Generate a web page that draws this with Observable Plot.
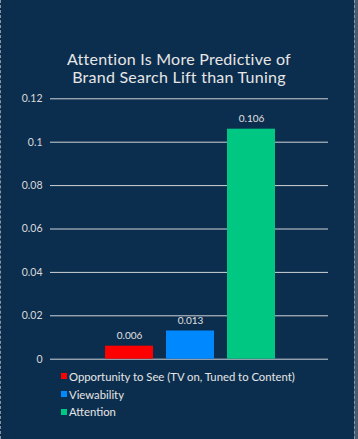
<!DOCTYPE html>
<html>
<head>
<meta charset="utf-8">
<script src="https://cdn.jsdelivr.net/npm/d3@7"></script>
<script src="https://cdn.jsdelivr.net/npm/@observablehq/plot@0.6"></script>
<style>
  html, body { margin: 0; padding: 0; background: #0c2e4e; }
  #wrap { position: relative; width: 358px; height: 439px; background: #0c2e4e; overflow: hidden; font-family: "Lato", "Open Sans", sans-serif; }
  #bl { position: absolute; left: 0; top: 0; width: 0; height: 439px; border-left: 1px dashed #8a96a3; }
  #br { position: absolute; left: 354px; top: 0; width: 4px; height: 439px; border-left: 1px dashed #8a96a3; background: #4a5d70; }
  .tl { position: absolute; left: 0; width: 358px; text-align: center; color: #e6e6e6; font-size: 16px; line-height: 18px; letter-spacing: 0.25px; white-space: nowrap; }
  #chart { position: absolute; top: 90px; left: 0; }
  #legend { position: absolute; top: 367.5px; left: 61px; color: #e6e6e6; font-size: 11.3px; }
  .item { display: flex; align-items: center; height: 17.8px; }
  .sw { width: 6px; height: 6px; margin-right: 2px; }
</style>
</head>
<body>
<div id="wrap">
  <div id="bl"></div>
  <div id="br"></div>
  <div class="tl" style="top:49.5px">Attention Is More Predictive of</div>
  <div class="tl" style="top:68px">Brand Search Lift than Tuning</div>
  <div id="chart"></div>
  <div id="legend"></div>
</div>
<script>
const categories = ["Opportunity to See (TV on, Tuned to Content)", "Viewability", "Attention"];
const values = [0.006, 0.013, 0.106];
const colors = ["#ff0000", "#0088ff", "#00c882"];
const labels = ["0.006", "0.013", "0.106"];
const yTicks = [0, 0.02, 0.04, 0.06, 0.08, 0.1, 0.12];
const yTickLabels = ["0", "0.02", "0.04", "0.06", "0.08", "0.1", "0.12"];

const data = categories.map((c, i) => ({cat: c, value: values[i], label: labels[i]}));

const chart = Plot.plot({
  width: 358,
  height: 275,
  marginLeft: 50,
  marginRight: 30,
  marginTop: 8.3,
  marginBottom: 6.3,
  style: {background: "transparent", color: "#d9d9d9", fontFamily: "Lato, 'Open Sans', sans-serif"},
  x: {domain: categories, range: [97.25, 281.75], paddingInner: 0.22, paddingOuter: 0.11, axis: null},
  y: {domain: [0, 0.12], axis: null},
  color: {domain: categories, range: colors},
  marks: [
    Plot.ruleY(yTicks, {stroke: "#d0d4d8", strokeWidth: 1}),
    Plot.axisY({ticks: yTicks, tickSize: 0, tickPadding: 8, tickFormat: (d) => yTickLabels[yTicks.indexOf(d)], label: null, fontSize: 10.5, fill: "#d9d9d9"}),
    Plot.barY(data, {x: "cat", y: "value", fill: "cat"}),
    Plot.text(data, {x: "cat", y: "value", text: "label", dy: -10, fill: "#e0e0e0", fontSize: 10})
  ]
});
document.getElementById("chart").appendChild(chart);

const legend = document.getElementById("legend");
categories.forEach((c, i) => {
  const item = document.createElement("div");
  item.className = "item";
  const sw = document.createElement("div");
  sw.className = "sw";
  sw.style.background = colors[i];
  const t = document.createElement("span");
  t.textContent = c;
  item.appendChild(sw);
  item.appendChild(t);
  legend.appendChild(item);
});
</script>
</body>
</html>
